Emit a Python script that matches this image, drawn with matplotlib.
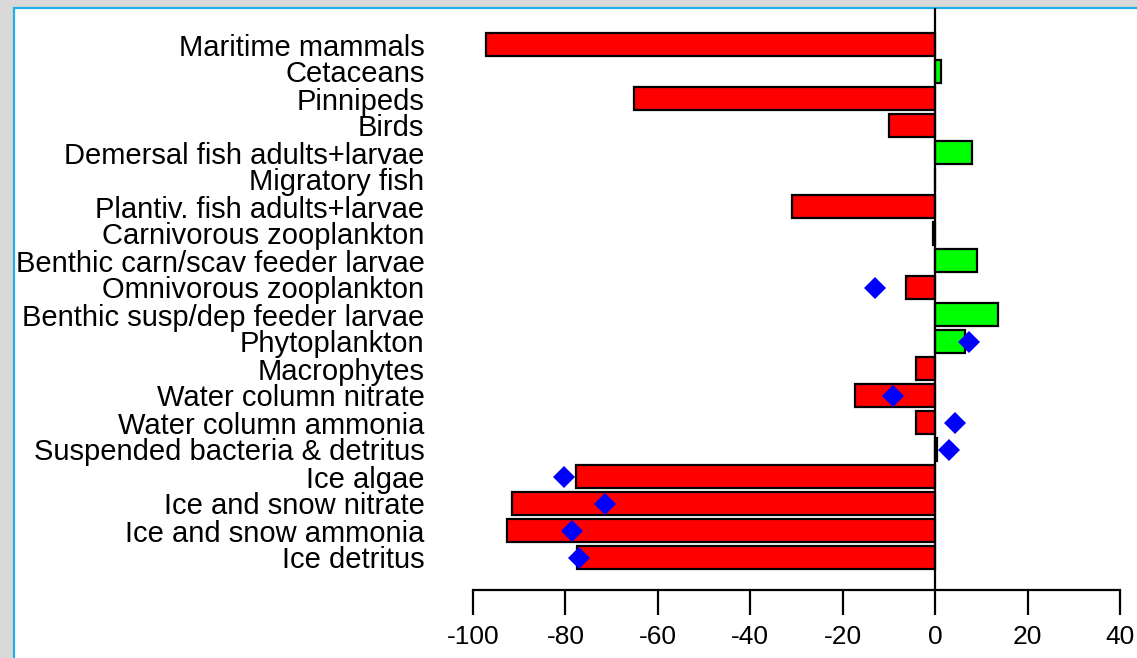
import numpy as np
import matplotlib
matplotlib.use("Agg")
import matplotlib.pyplot as plt
from matplotlib.patches import Rectangle

categories = ["Maritime mammals", "Cetaceans", "Pinnipeds", "Birds",
              "Demersal fish adults+larvae", "Migratory fish",
              "Plantiv. fish adults+larvae", "Carnivorous zooplankton",
              "Benthic carn/scav feeder larvae", "Omnivorous zooplankton",
              "Benthic susp/dep feeder larvae", "Phytoplankton", "Macrophytes",
              "Water column nitrate", "Water column ammonia",
              "Suspended bacteria & detritus", "Ice algae",
              "Ice and snow nitrate", "Ice and snow ammonia", "Ice detritus"]
bar_values = [-97.2, 1.2, -65.2, -10.0, 8.0, 0.0, -31.0, -0.4, 9.1, -6.3,
              13.7, 6.4, -4.1, -17.3, -4.1, 0.4, -77.7, -91.6, -92.6, -77.5]
diamond_values = [np.nan, np.nan, np.nan, np.nan, np.nan, np.nan, np.nan,
                  np.nan, np.nan, -13.0, np.nan, 7.4, np.nan, -9.1, 4.3, 3.0,
                  -80.3, -71.4, -78.6, -77.1]
xticks = [-100, -80, -60, -40, -20, 0, 20, 40]

W, H = 1137, 658
fig = plt.figure(figsize=(W / 100, H / 100), dpi=100)
fig.patch.set_facecolor("#d9d9d9")
fig.patches.append(Rectangle((14 / W, -0.05), 1.1, (H - 8) / H + 0.05,
                             transform=fig.transFigure, facecolor="white",
                             edgecolor="#1eb0e6", linewidth=1.6, zorder=-10))

ax = fig.add_axes([473 / W, 1 - 590 / H, (1120 - 473) / W, (590 - 8) / H])
ax.set_zorder(5)
ax.patch.set_visible(False)

y = np.arange(len(categories))
colors = ["#00ff00" if v > 0 else "#ff0000" for v in bar_values]
ax.barh(y, bar_values, height=0.86, color=colors, edgecolor="black",
        linewidth=1.6, zorder=2)
ax.axvline(0, color="black", linewidth=1.6, zorder=3)
ax.plot(diamond_values, y, linestyle="none", marker="D", markersize=11.5,
        color="#0000ff", markeredgewidth=0, zorder=4)

ax.set_xlim(-100, 40)
ax.set_ylim((590 - 44.5) / 27, (8 - 44.5) / 27)

for s in ["top", "right", "left"]:
    ax.spines[s].set_visible(False)
ax.spines["bottom"].set_bounds(-100, 40)
ax.spines["bottom"].set_linewidth(1.6)

ax.set_xticks(xticks)
ax.set_xticklabels([str(t) for t in xticks], fontsize=19,
                   family=["Liberation Sans"])
ax.tick_params(axis="x", direction="out", length=18, width=1.6, pad=7)

ax.set_yticks(y)
ax.set_yticklabels(categories, fontsize=21, family=["Liberation Sans"])
ax.tick_params(axis="y", length=0, pad=35)

fig.savefig("out.png", dpi=100, facecolor=fig.get_facecolor())
